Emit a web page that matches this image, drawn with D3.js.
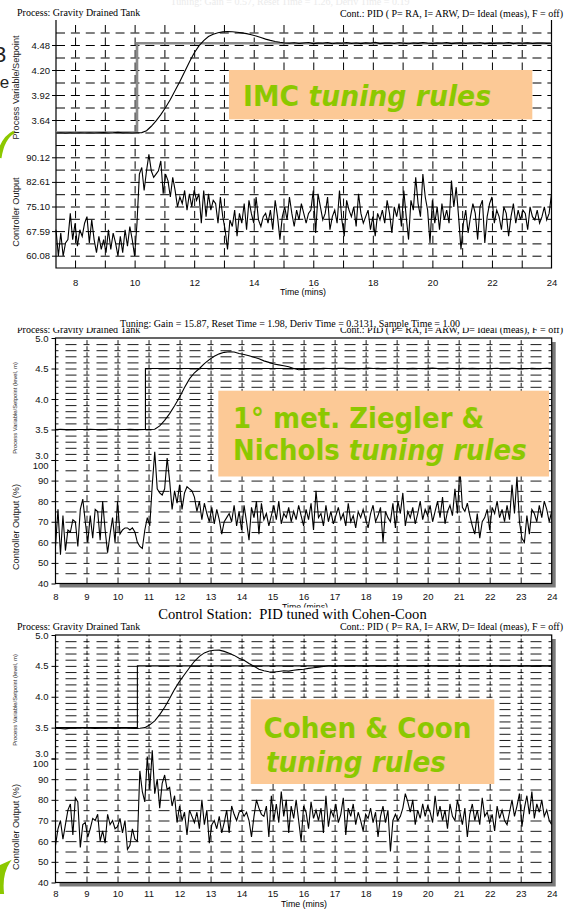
<!DOCTYPE html>
<html>
<head>
<meta charset="utf-8">
<script src="https://cdn.jsdelivr.net/npm/d3@7"></script>
<style>
  body { margin: 0; background: #fff; }
  svg { display: block; }
</style>
</head>
<body>
<div class="vis"></div>
<script>
//Width and height of the slide
var w = 569;
var h = 912;

var serif = '"Liberation Serif", "Times New Roman", serif';
var sans = '"Liberation Sans", Arial, sans-serif';
var bannerFont = '"DejaVu Sans", Verdana, sans-serif';
var green = "#8cc800";
var peach = "#fcc996";

// ---------- panel 1 : IMC tuning (PV every 0.16 min, CO every 0.08 min from t = 7.36) ----------
var imcStart = 7.36;
var imcPV = [3.495,3.497,3.493,3.496,3.494,3.497,3.495,3.498,3.494,3.496,3.499,3.495,3.497,3.501,3.496,3.498,3.495,3.497,3.499,
  3.52,3.57,3.63,3.70,3.78,3.87,3.97,4.07,4.18,4.29,4.39,4.47,4.53,4.575,4.60,4.618,4.627,4.631,4.628,4.622,
  4.616,4.607,4.594,4.58,4.563,4.546,4.532,4.52,4.51,4.503,4.50,
  4.505,4.497,4.502,4.508,4.496,4.501,4.499,4.506,4.494,4.503,4.5,4.507,4.497,4.502,4.495,4.504,4.499,4.509,4.496,4.501,
  4.503,4.497,4.505,4.5,4.494,4.502,4.498,4.506,4.5,4.496,4.503,4.499,4.507,4.495,4.501,4.504,4.497,4.502,4.499,4.505,
  4.496,4.501,4.498,4.503,4.5,4.507,4.495,4.502,4.499,4.504,4.497,4.501,4.503,4.498,4.5];
var imcCO = [68,60,67,60,64,65,73,65,70,63,68,66,70,72,64,71,65,61,66,62,65,61,68,62,67,64,60,66,61,68,63,69,65,60,
  70,
  85,87,80,86,91,86,84,85,86,89,79,85,83,78,84,80,75,78,76,80,
  74,79,75,80,77,79,70,80,72,79,74,77,76,70,78,72,68,62,71,69,74,66,73,70,76,
  68,77,73,70,78,71,69,72,73,70,74,68,77,72,65,72,75,71,78,73,69,74,71,76,73,
  70,73,74,80,67,79,75,71,73,78,68,72,74,70,80,71,66,77,74,72,75,69,79,73,70,
  72,74,68,72,66,73,71,74,70,77,73,67,75,72,76,69,80,72,65,77,74,84,76,72,85,
  78,74,64,77,70,75,68,76,71,74,70,83,75,81,72,62,70,74,67,72,76,73,65,75,77,
  64,72,76,78,70,74,72,68,75,73,66,72,76,70,74,71,74,73,68,75,72,71,74,70,72,75,71,73,79];
var imcSpTime = [7.36, 10.08, 10.08, 24];
var imcSpValue = [3.5, 3.5, 4.5, 4.5];
var imcPvTicks = [3.64, 3.92, 4.20, 4.48];
var imcCoTicks = [60.08, 67.59, 75.10, 82.61, 90.12];
var imcTimeTicks = [8, 10, 12, 14, 16, 18, 20, 22, 24];

// ---------- panel 2 : Ziegler & Nichols (PV every 0.16 min, CO every 0.08 min from t = 8) ----------
var znPV = [3.5,3.502,3.498,3.5,3.501,3.499,3.5,3.503,3.5,3.498,3.5,3.502,3.499,3.501,3.5,3.504,3.5,3.498,3.5,3.501,3.503,
  3.56,3.65,3.76,3.89,4.03,4.19,4.33,4.43,4.50,4.58,4.645,4.70,4.74,4.765,4.775,4.77,4.745,4.73,4.71,4.685,
  4.66,4.625,4.60,4.575,4.56,4.545,4.53,4.5,4.48,4.485,4.49,4.5,
  4.497,4.503,4.5,4.496,4.502,4.505,4.498,4.5,4.494,4.501,4.506,4.499,4.503,4.497,4.5,4.504,4.496,4.501,4.498,4.503,
  4.5,4.495,4.502,4.507,4.499,4.497,4.503,4.5,4.496,4.502,4.498,4.504,4.5,4.497,4.501,4.499,4.503,4.496,4.5,4.502,
  4.498,4.501,4.497,4.503,4.5,4.499,4.502,4.5];
var znCO = [58,76,54,73,56,66,65,71,70,58,76,81,70,60,73,62,76,75,61,80,66,55,64,72,60,
  80,64,66,67,67,66,67,65,60,58,57,66,72,68,88,104,86,84,83,86,101,90,76,85,79,
  88,76,84,87,86,85,82,75,80,71,79,74,70,77,69,76,71,64,70,72,74,70,78,68,75,
  66,78,70,61,77,72,80,64,79,71,74,68,73,78,71,80,69,74,72,77,70,75,71,78,73,
  68,76,71,79,66,85,72,74,68,78,70,75,69,73,77,71,74,68,79,70,73,67,75,72,76,
  71,67,74,78,70,73,77,60,75,72,70,79,67,80,74,84,68,75,72,77,69,74,80,71,76,
  73,78,70,75,80,72,82,69,75,78,73,86,74,96,77,75,79,73,68,64,74,62,70,72,76,
  66,77,74,80,72,76,70,78,71,88,74,92,70,62,60,73,64,76,74,70,78,72,80,76,70,75];
var znSpTime = [8, 10.9, 10.9, 24];
var znSpValue = [3.5, 3.5, 4.5, 4.5];

// ---------- panel 3 : Cohen & Coon ----------
var ccPV = [3.49,3.485,3.48,3.49,3.495,3.49,3.5,3.49,3.485,3.49,3.495,3.49,3.485,3.49,3.495,3.49,3.485,3.49,
  3.50,3.545,3.61,3.71,3.83,3.97,4.12,4.25,4.36,4.47,4.575,4.655,4.71,4.74,4.752,4.755,4.735,4.705,4.67,4.625,
  4.59,4.54,4.495,4.445,4.42,4.405,4.40,4.41,4.42,4.415,4.43,4.44,4.445,4.46,4.47,4.48,4.49,4.5,
  4.502,4.497,4.503,4.5,4.505,4.498,4.501,4.496,4.503,4.5,4.498,4.504,4.499,4.502,4.497,4.5,4.503,4.498,4.501,4.505,
  4.497,4.5,4.502,4.498,4.503,4.499,4.501,4.496,4.502,4.5,4.504,4.498,4.501,4.499,4.503,4.497,4.5,4.502,4.498,4.501,
  4.499,4.503,4.5,4.498,4.5];
var ccCO = [58,66,70,61,68,75,78,63,81,79,57,68,69,62,66,71,70,73,60,65,59,73,68,70,66,67,
  71,64,70,56,58,66,61,60,94,84,79,101,85,104,83,90,76,88,92,85,86,77,82,69,77,
  70,74,63,75,72,69,74,66,80,68,75,59,68,70,66,72,64,69,75,64,77,73,70,74,75,
  72,74,70,62,72,80,76,73,72,77,62,82,70,78,69,84,72,80,64,77,71,80,70,60,77,
  74,66,79,71,75,70,76,64,82,67,75,72,78,69,73,81,63,76,72,78,68,74,70,65,73,
  71,76,69,74,62,72,77,69,75,55,70,73,70,72,76,83,79,74,80,68,75,71,78,72,77,
  74,69,82,72,77,70,75,66,78,72,70,80,74,68,76,62,73,78,70,75,68,81,72,74,69,
  73,65,77,71,75,70,68,74,80,72,77,83,67,76,82,73,84,71,78,74,80,72,75,70,68];
var ccSpTime = [8, 10.64, 10.64, 24];
var ccSpValue = [3.5, 3.5, 4.5, 4.5];

// ticks shared by panels 2 and 3
var stdPvTicks = [3.0, 3.5, 4.0, 4.5, 5.0];
var stdCoTicks = [40, 50, 60, 70, 80, 90, 100];
var stdTimeTicks = d3.range(8, 25, 1);

var svg = d3.select(".vis")
    .append("svg")
    .attr("width", w)
    .attr("height", h);

// bits of the slide showing behind the charts on the left edge
svg.append("text").attr("x", -6).attr("y", 62).text("3")
    .style("font-family", sans).style("font-size", "22px").style("fill", "#222");
svg.append("text").attr("x", -4).attr("y", 88).text("le")
    .style("font-family", sans).style("font-size", "17px").style("fill", "#222");
svg.append("path").attr("d", "M14,132 Q3,138 0,158 L0,150 Q4,137 14,132 Z")
    .attr("fill", green).attr("stroke", green).attr("stroke-width", 3);
svg.append("path").attr("d", "M9,862 Q1,874 3,893 L0,893 L0,866 Z")
    .attr("fill", green).attr("stroke", green).attr("stroke-width", 2);

function styleAxisText(sel, size) {
    sel.selectAll("text")
        .style("font-family", sans)
        .style("font-size", size + "px")
        .style("fill", "#111");
    sel.selectAll(".tick line").attr("stroke", "#000");
}

function drawPanel(cfg) {
    var g = svg.append("g").attr("class", cfg.name);
    var W = cfg.right - cfg.left;

    var x = d3.scaleLinear().domain(cfg.xDomain).range([cfg.left, cfg.right]);
    var yPV = d3.scaleLinear().domain(cfg.pvDomain).range([cfg.mid, cfg.top]);
    var yCO = d3.scaleLinear().domain(cfg.coDomain).range([cfg.bottom, cfg.mid]);

    // drop shadow + white plot area
    if (cfg.shadow) {
        g.append("rect")
            .attr("x", cfg.left + 4).attr("y", cfg.top + 4)
            .attr("width", W).attr("height", cfg.bottom - cfg.top)
            .attr("fill", "#7a7a7a");
        g.append("rect")
            .attr("x", cfg.left).attr("y", cfg.top)
            .attr("width", W).attr("height", cfg.bottom - cfg.top)
            .attr("fill", "#fff");
    }

    // horizontal dashed grid lines
    function hGrid(scale, values) {
        g.append("g")
            .attr("transform", "translate(" + cfg.left + ",0)")
            .call(d3.axisLeft(scale).tickValues(values).tickSize(-W).tickFormat(""))
            .call(function(a) {
                a.select(".domain").remove();
                a.selectAll("line")
                    .attr("stroke", "#000")
                    .attr("stroke-width", cfg.gridWidth)
                    .attr("stroke-dasharray", cfg.hDash)
                    .attr("stroke-dashoffset", cfg.hOffset);
            });
    }
    hGrid(yPV, cfg.pvGrid);
    hGrid(yCO, cfg.coGrid);

    // vertical dashed grid lines, one set per sub plot
    function vGrid(y0, y1, dash) {
        g.append("g")
            .attr("transform", "translate(0," + y1 + ")")
            .call(d3.axisBottom(x).tickValues(cfg.minutes).tickSize(-(y1 - y0)).tickFormat(""))
            .call(function(a) {
                a.select(".domain").remove();
                a.selectAll("line")
                    .attr("stroke", "#000")
                    .attr("stroke-width", cfg.gridWidth)
                    .attr("stroke-dasharray", dash);
            });
    }
    vGrid(cfg.top, cfg.mid, cfg.vDashPV);
    vGrid(cfg.mid, cfg.bottom, cfg.vDashCO);

    // frame
    if (cfg.shadow) {
        g.append("rect")
            .attr("x", cfg.left).attr("y", cfg.top)
            .attr("width", W).attr("height", cfg.bottom - cfg.top)
            .attr("fill", "none").attr("stroke", "#000").attr("stroke-width", 1.2);
    } else {
        g.append("path")
            .attr("d", "M" + cfg.left + "," + cfg.top + "V" + cfg.bottom + "H" + cfg.right + "V" + cfg.top)
            .attr("fill", "none").attr("stroke", "#000").attr("stroke-width", 1.2);
    }

    // setpoint, measured PV and controller output
    var spLine = d3.line()
        .x(function(d, i) { return x(cfg.spTime[i]); })
        .y(function(d) { return yPV(d); });
    g.append("path")
        .datum(cfg.spValue)
        .attr("d", spLine)
        .attr("fill", "none")
        .attr("stroke", cfg.spColor)
        .attr("stroke-width", cfg.spWidth);

    var pvLine = d3.line()
        .x(function(d, i) { return x(cfg.start + i * 0.16); })
        .y(function(d) { return yPV(d); });
    g.append("path")
        .datum(cfg.pv)
        .attr("d", pvLine)
        .attr("fill", "none")
        .attr("stroke", "#000")
        .attr("stroke-width", 1.1);

    var coLine = d3.line()
        .x(function(d, i) { return x(cfg.start + i * 0.08); })
        .y(function(d) { return yCO(d); });
    g.append("path")
        .datum(cfg.co)
        .attr("d", coLine)
        .attr("fill", "none")
        .attr("stroke", "#000")
        .attr("stroke-width", 1.1)
        .attr("stroke-linejoin", "miter");

    // axes
    var pvAxis = g.append("g")
        .attr("transform", "translate(" + cfg.left + ",0)")
        .call(d3.axisLeft(yPV).tickValues(cfg.pvTicks).tickSize(4).tickPadding(cfg.yPad).tickFormat(d3.format(cfg.pvFormat)));
    pvAxis.select(".domain").remove();
    styleAxisText(pvAxis, cfg.tickFont);

    var coAxis = g.append("g")
        .attr("transform", "translate(" + cfg.left + ",0)")
        .call(d3.axisLeft(yCO).tickValues(cfg.coTicks).tickSize(4).tickPadding(cfg.yPad).tickFormat(d3.format(cfg.coFormat)));
    coAxis.select(".domain").remove();
    styleAxisText(coAxis, cfg.tickFont);

    // labels where the two sub plots meet are pushed apart
    if (cfg.shadow) {
        pvAxis.selectAll(".tick text").filter(function(d) { return d == cfg.pvDomain[0]; }).attr("dy", "-2px");
        coAxis.selectAll(".tick text").filter(function(d) { return d == cfg.coDomain[1]; }).attr("dy", "8px");
    }

    var xAxis = g.append("g")
        .attr("transform", "translate(0," + cfg.bottom + ")")
        .call(d3.axisBottom(x).tickValues(cfg.timeTicks).tickSize(0).tickPadding(cfg.xPad));
    xAxis.select(".domain").remove();
    styleAxisText(xAxis, cfg.tickFont);

    g.append("text")
        .attr("x", cfg.timeX).attr("y", cfg.timeY)
        .attr("text-anchor", "middle")
        .text("Time (mins)")
        .style("font-family", sans).style("font-size", "8.8px");

    g.append("text")
        .attr("transform", "translate(" + cfg.pvTitleX + "," + cfg.pvTitleY + ") rotate(-90)")
        .attr("text-anchor", "middle")
        .text(cfg.pvTitle)
        .style("font-family", sans).style("font-size", cfg.pvTitleSize + "px").style("fill", "#222");
    g.append("text")
        .attr("transform", "translate(" + cfg.coTitleX + "," + cfg.coTitleY + ") rotate(-90)")
        .attr("text-anchor", "middle")
        .text(cfg.coTitle)
        .style("font-family", sans).style("font-size", "9.1px").style("fill", "#222");
}

function header(y, yCont) {
    svg.append("text").attr("x", 17).attr("y", y)
        .text("Process: Gravity Drained Tank")
        .style("font-family", serif).style("font-size", "10px");
    svg.append("text").attr("x", 563).attr("y", yCont).attr("text-anchor", "end")
        .text("Cont.: PID ( P= RA, I= ARW, D= Ideal (meas), F = off)")
        .style("font-family", serif).style("font-size", "10px");
}

// ---------------- panel 1 ----------------
svg.append("text").attr("x", 290).attr("y", 4.5).attr("text-anchor", "middle")
    .text("Tuning: Gain = 0.57, Reset Time = 1.26, Deriv Time = 0.19")
    .style("font-family", serif).style("font-size", "10px").style("fill", "#ebebeb");
header(16, 16.5);
drawPanel({
    name: "imc", left: 56, right: 551.5, top: 20, mid: 145, bottom: 268,
    xDomain: [imcStart, 24], pvDomain: [3.36, 4.76], coDomain: [56.325, 93.875],
    pvGrid: d3.range(3.5, 4.7, 0.14), coGrid: d3.range(60.08, 93.9, 3.755),
    minutes: d3.range(8, 24, 1),
    hDash: "9,5.89", hOffset: 0, vDashPV: "7.5,5", vDashCO: "7.5,4.9", gridWidth: 1,
    start: imcStart, pv: imcPV, co: imcCO, spTime: imcSpTime, spValue: imcSpValue,
    spColor: "#8a8a8a", spWidth: 2.6,
    pvTicks: imcPvTicks, coTicks: imcCoTicks, timeTicks: imcTimeTicks,
    pvFormat: ".2f", coFormat: ".2f", yPad: 2, xPad: 11, tickFont: 9.5,
    timeX: 303, timeY: 295,
    pvTitle: "Process Variable/Setpoint", pvTitleSize: 9.1, pvTitleX: 19, pvTitleY: 87.5,
    coTitle: "Controller Output", coTitleX: 19, coTitleY: 212,
    shadow: false
});

// ---------------- panel 2 ----------------
header(333, 333);
drawPanel({
    name: "zn", left: 55.5, right: 551.7, top: 338, mid: 460, bottom: 583.5,
    xDomain: [8, 24], pvDomain: [3, 5], coDomain: [40, 100],
    pvGrid: d3.range(3.1, 4.95, 0.1), coGrid: d3.range(45, 100.5, 5),
    minutes: d3.range(9, 24, 1),
    hDash: "6,7,11,7", hOffset: 3, vDashPV: "4,2.1", vDashCO: "6,4.3", gridWidth: 0.9,
    start: 8, pv: znPV, co: znCO, spTime: znSpTime, spValue: znSpValue,
    spColor: "#000", spWidth: 1.1,
    pvTicks: stdPvTicks, coTicks: stdCoTicks, timeTicks: stdTimeTicks,
    pvFormat: ".1f", coFormat: "d", yPad: 3, xPad: 9.8, tickFont: 9.5,
    timeX: 305, timeY: 610,
    pvTitle: "Process Variable/Setpoint (level, m)", pvTitleSize: 5.8, pvTitleX: 16.5, pvTitleY: 408,
    coTitle: "Controller Output (%)", coTitleX: 18.5, coTitleY: 527,
    shadow: true
});
svg.append("rect").attr("x", 0).attr("y", 308).attr("width", w).attr("height", 19.8).attr("fill", "#fff");
svg.append("text").attr("x", 290).attr("y", 326.5).attr("text-anchor", "middle")
    .text("Tuning: Gain = 15.87, Reset Time = 1.98, Deriv Time = 0.3131, Sample Time = 1.00")
    .style("font-family", serif).style("font-size", "10px");

// ---------------- panel 3 ----------------
header(630, 630);
drawPanel({
    name: "cc", left: 55.5, right: 551.7, top: 635, mid: 758.5, bottom: 882.5,
    xDomain: [8, 24], pvDomain: [3, 5], coDomain: [40, 100],
    pvGrid: d3.range(3.1, 4.95, 0.1), coGrid: d3.range(45, 100.5, 5),
    minutes: d3.range(9, 24, 1),
    hDash: "6,7,11,7", hOffset: 3, vDashPV: "4,2.1", vDashCO: "6,4.3", gridWidth: 0.9,
    start: 8, pv: ccPV, co: ccCO, spTime: ccSpTime, spValue: ccSpValue,
    spColor: "#000", spWidth: 1.1,
    pvTicks: stdPvTicks, coTicks: stdCoTicks, timeTicks: stdTimeTicks,
    pvFormat: ".1f", coFormat: "d", yPad: 3, xPad: 7.5, tickFont: 9.5,
    timeX: 304, timeY: 906.5,
    pvTitle: "Process Variable/Setpoint (level, m)", pvTitleSize: 5.8, pvTitleX: 16.5, pvTitleY: 700,
    coTitle: "Controller Output (%)", coTitleX: 18.5, coTitleY: 827,
    shadow: true
});
svg.append("rect").attr("x", 0).attr("y", 607.5).attr("width", w).attr("height", 14).attr("fill", "#fff");
svg.append("text").attr("x", 292.5).attr("y", 619).attr("text-anchor", "middle")
    .style("white-space", "pre")
    .text("Control Station:  PID tuned with Cohen-Coon")
    .style("font-family", serif).style("font-size", "14.6px");

// ---------------- orange call-outs ----------------
function banner(box, lines, sx) {
    svg.append("rect")
        .attr("x", box[0]).attr("y", box[1])
        .attr("width", box[2] - box[0]).attr("height", box[3] - box[1])
        .attr("fill", peach);
    lines.forEach(function(l) {
        var t = svg.append("g")
            .attr("transform", "translate(" + l.x + "," + l.y + ") scale(" + sx + ",1)")
            .append("text")
            .style("font-family", bannerFont)
            .style("font-size", "28.5px")
            .style("font-weight", "bold")
            .style("fill", green)
            .style("white-space", "pre");
        t.append("tspan").text(l.plain);
        t.append("tspan").style("font-style", "italic").text(l.italic);
    });
}
banner([229, 70, 532.3, 119.3], [{x: 243, y: 106, plain: "IMC ", italic: "tuning rules"}], 0.937);
banner([218.3, 390.7, 549, 476.5], [
    {x: 233, y: 428.3, plain: "1\u00b0 met. Ziegler &", italic: ""},
    {x: 233, y: 459.5, plain: "Nichols ", italic: "tuning rules"}], 0.912);
banner([250.7, 699.3, 494.3, 784], [
    {x: 263.5, y: 738.3, plain: "Cohen & Coon", italic: ""},
    {x: 266, y: 771.5, plain: "", italic: "tuning rules"}], 0.923);
</script>
</body>
